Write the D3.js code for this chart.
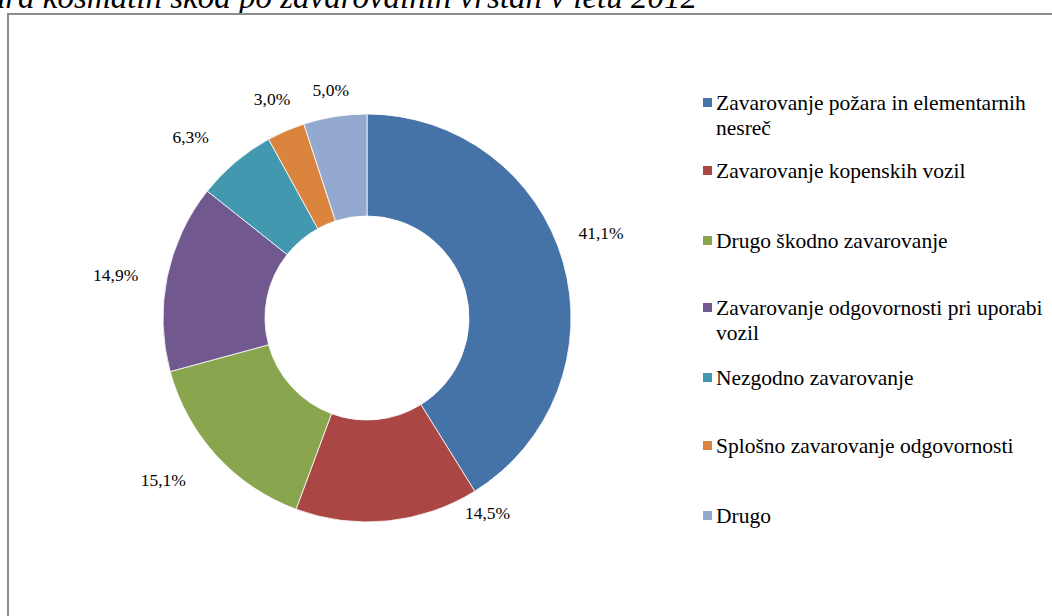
<!DOCTYPE html>
<html><head><meta charset="utf-8">
<script src="https://cdn.jsdelivr.net/npm/d3@7"></script>
<style>html,body{margin:0;padding:0;background:#fff;overflow:hidden}</style>
</head><body>
<svg id="chart" width="1052" height="616"></svg>
<script>
const categories = [
  "Zavarovanje požara in elementarnih nesreč",
  "Zavarovanje kopenskih vozil",
  "Drugo škodno zavarovanje",
  "Zavarovanje odgovornosti pri uporabi vozil",
  "Nezgodno zavarovanje",
  "Splošno zavarovanje odgovornosti",
  "Drugo"
];
const values = [41.1, 14.5, 15.1, 14.9, 6.3, 3.0, 5.0];
const valueLabels = ["41,1%", "14,5%", "15,1%", "14,9%", "6,3%", "3,0%", "5,0%"];
const legendLines = [
  ["Zavarovanje požara in elementarnih", "nesreč"],
  ["Zavarovanje kopenskih vozil"],
  ["Drugo škodno zavarovanje"],
  ["Zavarovanje odgovornosti pri uporabi", "vozil"],
  ["Nezgodno zavarovanje"],
  ["Splošno zavarovanje odgovornosti"],
  ["Drugo"]
];
const titleText = "Struktura kosmatih škod po zavarovalnih vrstah v letu 2012";

// layout / style
const colors = ["#4572A7", "#AA4643", "#89A54E", "#71588F", "#4198AF", "#DB843D", "#93A9CF"];
const cx = 367, cy = 318, rOuter = 204, rInner = 102;
// label placement (angle shift in degrees, radius) per slice
const labelAngleShift = [-4, -26, 4, -2, -4, 0, 0];
const labelRadius = [249, 229, 260, 255, 253, 239, 231];
const legendY = [103, 171, 241, 308, 378, 446, 516];
const serif = "'Liberation Serif','Times New Roman',serif";

const svg = d3.select("#chart");

// title (cut off at top/left like reference)
svg.append("text")
  .attr("x", 697).attr("y", 8)
  .attr("text-anchor", "end")
  .attr("font-family", serif).attr("font-style", "italic")
  .attr("font-size", 33).attr("fill", "#000")
  .text(titleText);

// frame
svg.append("rect")
  .attr("x", 8).attr("y", 14).attr("width", 1100).attr("height", 700)
  .attr("fill", "none").attr("stroke", "#8c8c8c").attr("stroke-width", 2);

const pie = d3.pie().value(d => d).sort(null);
const arcs = pie(values);
const arc = d3.arc().innerRadius(rInner).outerRadius(rOuter);

const g = svg.append("g").attr("transform", `translate(${cx},${cy})`);
g.selectAll("path").data(arcs).join("path")
  .attr("d", arc)
  .attr("fill", (d, i) => colors[i])
  .attr("stroke", "#fff").attr("stroke-width", 0.8);

g.selectAll("text.lbl").data(arcs).join("text")
  .attr("class", "lbl")
  .attr("x", (d, i) => {
    const a = (d.startAngle + d.endAngle) / 2 + labelAngleShift[i] * Math.PI / 180;
    return labelRadius[i] * Math.sin(a);
  })
  .attr("y", (d, i) => {
    const a = (d.startAngle + d.endAngle) / 2 + labelAngleShift[i] * Math.PI / 180;
    return -labelRadius[i] * Math.cos(a);
  })
  .attr("text-anchor", "middle").attr("dominant-baseline", "central")
  .attr("font-family", serif).attr("font-size", 17.5).attr("fill", "#000")
  .text((d, i) => valueLabels[i]);

// legend
const lg = svg.append("g");
categories.forEach((c, i) => {
  const y = legendY[i];
  lg.append("rect").attr("x", 703).attr("y", y - 5).attr("width", 9).attr("height", 9)
    .attr("fill", colors[i]);
  const t = lg.append("text")
    .attr("x", 716).attr("y", y)
    .attr("dominant-baseline", "central")
    .attr("font-family", serif).attr("font-size", 21.5).attr("fill", "#000");
  legendLines[i].forEach((ln, j) => {
    t.append("tspan").attr("x", 716).attr("dy", j === 0 ? 0 : 25).text(ln);
  });
});
</script>
</body></html>
